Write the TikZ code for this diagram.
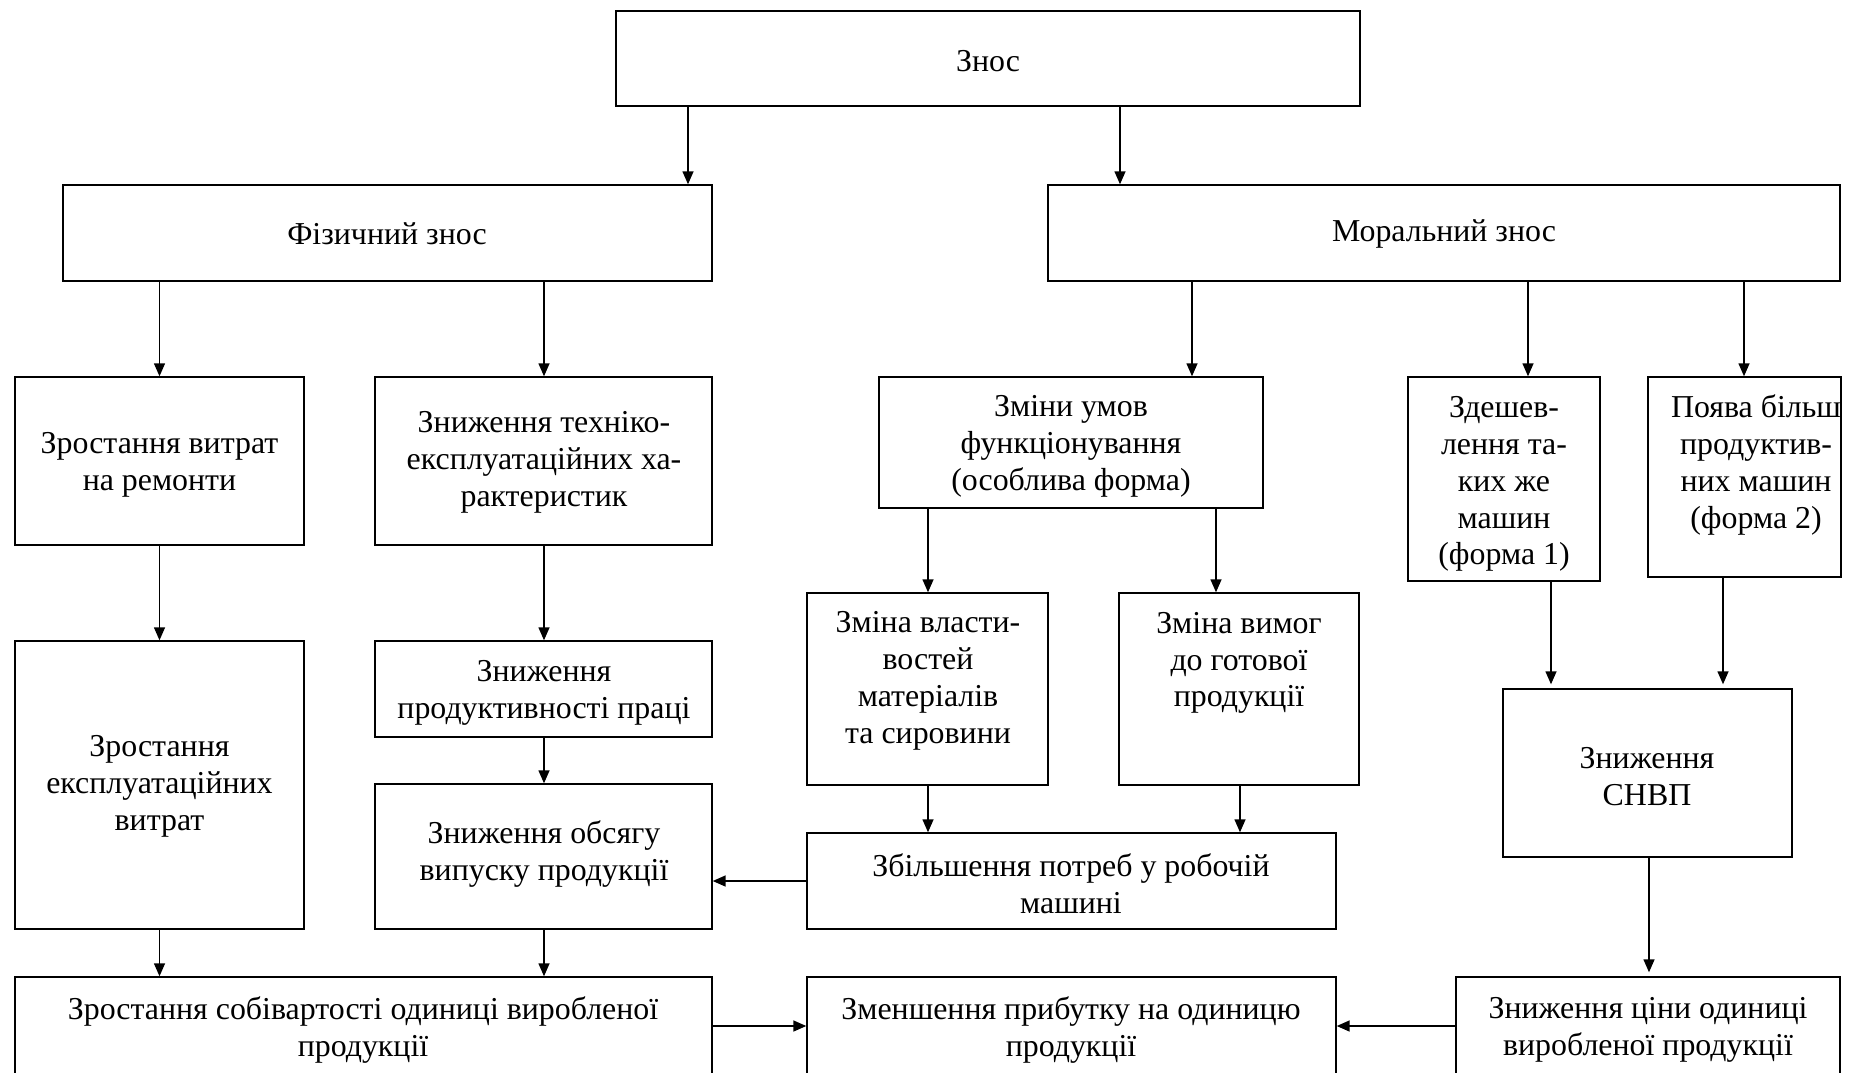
\documentclass[tikz,border=0pt]{standalone}
\usepackage{fontspec}
\setmainfont{Liberation Serif}
\usetikzlibrary{arrows.meta,fit}
\tikzset{
  box/.style={draw, line width=1.4bp, inner sep=0pt, rectangle},
  txt/.style={align=center, inner sep=0pt, yshift=-3bp, font=\fontsize{32}{37}\selectfont},
  arr/.style={line width=1.4bp, -{Triangle[length=13bp,width=11bp]}},
}
\begin{document}
\begin{tikzpicture}[x=1bp,y=-1bp]
\useasboundingbox (0,0) rectangle (1860,1072);
\clip (0,0) rectangle (1860,1072);
% boxes
\node[box, fit={(616,11) (1360,106)}] (znos) {};
\node[box, fit={(63,185) (712,281)}] (fiz) {};
\node[box, fit={(1048,185) (1840,281)}] (mor) {};
\node[box, fit={(15,377) (304,545)}] (b1) {};
\node[box, fit={(375,377) (712,545)}] (b2) {};
\node[box, fit={(879,377) (1263,508)}] (b3) {};
\node[box, fit={(1408,377) (1600,581)}] (b4) {};
\node[box, fit={(1648,377) (1841,577)}] (b5) {};
\node[box, fit={(15,641) (304,929)}] (c1) {};
\node[box, fit={(375,641) (712,737)}] (c2) {};
\node[box, fit={(375,784) (712,929)}] (c3) {};
\node[box, fit={(807,593) (1048,785)}] (d1) {};
\node[box, fit={(1119,593) (1359,785)}] (d2) {};
\node[box, fit={(807,833) (1336,929)}] (zb) {};
\node[box, fit={(1503,689) (1792,857)}] (snvp) {};
\node[box, fit={(15,977) (712,1110)}] (e1) {};
\node[box, fit={(807,977) (1336,1110)}] (e2) {};
\node[box, fit={(1456,977) (1840,1110)}] (e3) {};
% texts
\node[txt] (znos-t) at (988,58) {Знос};
\node[txt] (fiz-t) at (387,231) {Фізичний знос};
\node[txt] (mor-t) at (1444,231) {Моральний знос};
\node[txt] (b1-t) at (159.5,462) {Зростання витрат\\на ремонти};
\node[txt] (b2-t) at (544,459) {Зниження техніко-\\експлуатаційних ха-\\рактеристик};
\node[txt] (b3-t) at (1071,443) {Зміни умов\\функціонування\\(особлива форма)};
\node[txt] (b4-t) at (1504,481) {Здешев-\\лення та-\\ких же\\машин\\(форма 1)};
\node[txt] (b5-t) at (1756,462) {Поява більш\\продуктив-\\них машин\\(форма 2)};
\node[txt] (c1-t) at (159.5,783) {Зростання\\експлуатаційних\\витрат};
\node[txt] (c2-t) at (544,690) {Зниження\\продуктивності праці};
\node[txt] (c3-t) at (544,851) {Зниження обсягу\\випуску продукції};
\node[txt] (d1-t) at (928,678) {Зміна власти-\\востей\\матеріалів\\та сировини};
\node[txt] (d2-t) at (1239,660) {Зміна вимог\\до готової\\продукції};
\node[txt] (zb-t) at (1071,881) {Збільшення потреб у робочій\\машині};
\node[txt] (snvp-t) at (1647,774) {Зниження\\СНВП};
\node[txt] (e1-t) at (363,1027) {Зростання собівартості одиниці виробленої\\продукції};
\node[txt] (e2-t) at (1071,1027) {Зменшення прибутку на одиницю\\продукції};
\node[txt] (e3-t) at (1648,1027) {Зниження ціни одиниці\\виробленої продукції};
% columns for connectors
\coordinate (x688) at (688,0);
\coordinate (x1120) at (1120,0);
\coordinate (x159) at (159.5,0);
\coordinate (x544) at (544,0);
\coordinate (x1192) at (1192,0);
\coordinate (x1528) at (1528,0);
\coordinate (x1744) at (1744,0);
\coordinate (x928) at (928,0);
\coordinate (x1216) at (1216,0);
\coordinate (x1240) at (1240,0);
\coordinate (x1551) at (1551,0);
\coordinate (x1723) at (1723,0);
\coordinate (x1649) at (1649,0);
\coordinate (y881) at (0,881);
\coordinate (y1026) at (0,1026);
% connectors
\draw[arr] (znos.south -| x688) -- (fiz.north -| x688);
\draw[arr] (znos.south -| x1120) -- (mor.north -| x1120);
\draw[arr] (fiz.south -| x159) -- (b1.north -| x159);
\draw[arr] (fiz.south -| x544) -- (b2.north -| x544);
\draw[arr] (mor.south -| x1192) -- (b3.north -| x1192);
\draw[arr] (mor.south -| x1528) -- (b4.north -| x1528);
\draw[arr] (mor.south -| x1744) -- (b5.north -| x1744);
\draw[arr] (b1.south -| x159) -- (c1.north -| x159);
\draw[arr] (b2.south -| x544) -- (c2.north -| x544);
\draw[arr] (c2.south -| x544) -- (c3.north -| x544);
\draw[arr] (c1.south -| x159) -- (e1.north -| x159);
\draw[arr] (c3.south -| x544) -- (e1.north -| x544);
\draw[arr] (b3.south -| x928) -- (d1.north -| x928);
\draw[arr] (b3.south -| x1216) -- (d2.north -| x1216);
\draw[arr] (d1.south -| x928) -- (zb.north -| x928);
\draw[arr] (d2.south -| x1240) -- (zb.north -| x1240);
\draw[arr, line width=1.6bp] (zb.west |- y881) -- (c3.east |- y881);
\draw[arr, shorten >=4bp] (b4.south -| x1551) -- (snvp.north -| x1551);
\draw[arr, shorten >=4bp] (b5.south -| x1723) -- (snvp.north -| x1723);
\draw[arr, shorten >=4bp] (snvp.south -| x1649) -- (e3.north -| x1649);
\draw[arr, line width=1.6bp] (e1.east |- y1026) -- (e2.west |- y1026);
\draw[arr, line width=1.6bp] (e3.west |- y1026) -- (e2.east |- y1026);
\end{tikzpicture}
\end{document}
